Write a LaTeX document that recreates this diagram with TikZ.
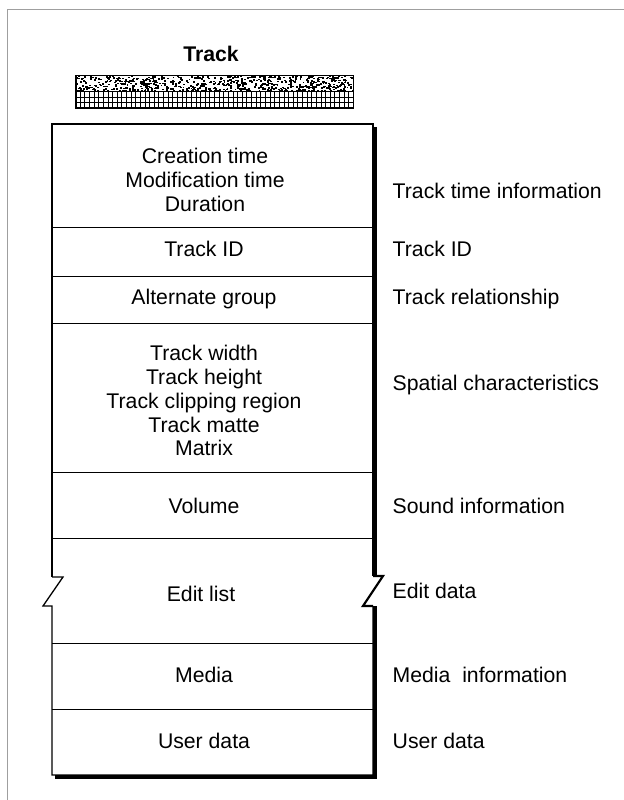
\documentclass[tikz,border=0pt]{standalone}
\usepackage{fontspec}
\usetikzlibrary{calc}
\setmainfont{Liberation Sans}
\begin{document}
\begin{tikzpicture}[x=1bp,y=-1bp,
  txt/.style={font=\fontsize{21.3}{24}\selectfont, inner sep=0pt},
  cell/.style={txt, align=center},
  single/.style={txt, text depth=0pt},
  side/.style={txt, text depth=0pt, anchor=west},
  divider/.style={line width=1bp},
  outline/.style={line width=1.3bp, line join=miter},
  shadow/.style={fill=black}]
\useasboundingbox (0,0) rectangle (624,800);

% page frame
\draw[gray!75, line width=1.5bp] (7.5,800) -- (7.5,9.5) -- (624,9.5);

% title and header bar
\node[txt, font=\fontsize{21.3}{24}\selectfont\bfseries, text depth=0pt] (title) at (211,54) {Track};
\node[draw, line width=0.8bp, minimum width=277bp, minimum height=32bp, inner sep=0pt] (bar) at (214.5,91.7) {};
\begin{scope}
  \clip (bar.north west) rectangle (bar.east);
  \pgfmathsetseed{17}
  \foreach \i in {1,...,750} {
    \pgfmathsetmacro\xx{76+277*rnd}
    \pgfmathsetmacro\yy{75.5+16*rnd}
    \fill (\xx,\yy) rectangle ++(1.9,1.5);
  }
\end{scope}
\draw[line width=0.8bp] (bar.west) -- (bar.east);
\foreach \k in {1,...,59}
  \draw[line width=0.9bp] ($(bar.south west)!\k/60!(bar.south east)$) -- ++(0,-16);
\draw[line width=0.9bp] (76,97.1) -- (353,97.1) (76,102.4) -- (353,102.4);
\draw[line width=0.8bp] (bar.north west) rectangle (bar.south east);

% drop shadow of the record box
\fill[shadow] (373,127) rectangle (377,576);
\fill[shadow] (373,606) rectangle (377,778.5);
\fill[shadow] (55,775) rectangle (377,778.5);

% record box with broken sides at the edit list
\draw[outline] (52,577) -- (52,124) -- (373,124) -- (373,576);
\draw[outline] (52,577) -- (63,577) -- (43,606) -- (52,606) -- (52,775) -- (373,775) -- (373,606);
\draw[outline, line width=2.2bp] (373,576) -- (383,576) -- (363,606) -- (373,606);

% field dividers
\foreach \yy in {227,276,323,472,538,643,709}
  \draw[divider] (52,\yy) -- (373,\yy);

% field names
\node[cell] (times) at (205,180) {Creation time\\Modification time\\Duration};
\node[single] (trackid) at (204,249) {Track ID};
\node[single] (altgroup) at (204,297) {Alternate group};
\node[cell] (spatial) at (204,400.5) {Track width\\Track height\\Track clipping region\\Track matte\\Matrix};
\node[single] (volume) at (204,506) {Volume};
\node[single] (editlist) at (201,594) {Edit list};
\node[single] (media) at (204,675) {Media};
\node[single] (userdata) at (204,741) {User data};

% descriptions
\node[side] (dtime) at (392.5,191) {Track time information};
\node[side] (did) at (392.5,249) {Track ID};
\node[side] (drel) at (392.5,297) {Track relationship};
\node[side] (dspatial) at (392.5,382.5) {Spatial characteristics};
\node[side] (dsound) at (392.5,506) {Sound information};
\node[side] (dedit) at (392.5,590.5) {Edit data};
\node[side] (dmedia) at (392.5,675) {Media\ \ information};
\node[side] (duser) at (392.5,741) {User data};
\end{tikzpicture}
\end{document}
